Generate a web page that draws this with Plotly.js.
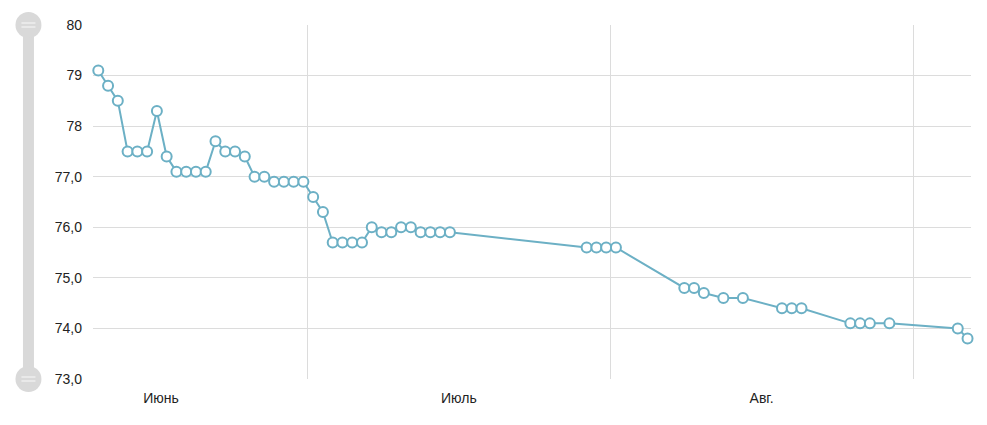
<!DOCTYPE html>
<html>
<head>
<meta charset="utf-8">
<script src="https://cdn.plot.ly/plotly-3.0.1.min.js"></script>
<style>
  html, body { margin: 0; padding: 0; background: #fff; }
  #chart { width: 987px; height: 425px; }
</style>
</head>
<body>
<div id="chart"></div>
<script>
// ---- data ----
const dates = [
  "2015-06-09","2015-06-10","2015-06-11","2015-06-12","2015-06-13","2015-06-14","2015-06-15",
  "2015-06-16","2015-06-17","2015-06-18","2015-06-19","2015-06-20","2015-06-21","2015-06-22",
  "2015-06-23","2015-06-24","2015-06-25","2015-06-26","2015-06-27","2015-06-28","2015-06-29",
  "2015-06-30","2015-07-01","2015-07-02","2015-07-03","2015-07-04","2015-07-05","2015-07-06",
  "2015-07-07","2015-07-08","2015-07-09","2015-07-10","2015-07-11","2015-07-12","2015-07-13",
  "2015-07-14","2015-07-15",
  "2015-07-29","2015-07-30","2015-07-31","2015-08-01",
  "2015-08-08","2015-08-09","2015-08-10","2015-08-12","2015-08-14",
  "2015-08-18","2015-08-19","2015-08-20",
  "2015-08-25","2015-08-26","2015-08-27","2015-08-29",
  "2015-09-05","2015-09-06"
];
const weights = [
  79.1,78.8,78.5,77.5,77.5,77.5,78.3,
  77.4,77.1,77.1,77.1,77.1,77.7,77.5,
  77.5,77.4,77.0,77.0,76.9,76.9,76.9,
  76.9,76.6,76.3,75.7,75.7,75.7,75.7,
  76.0,75.9,75.9,76.0,76.0,75.9,75.9,
  75.9,75.9,
  75.6,75.6,75.6,75.6,
  74.8,74.8,74.7,74.6,74.6,
  74.4,74.4,74.4,
  74.1,74.1,74.1,74.1,
  74.0,73.8
];
const monthStarts = ["2015-06-01","2015-07-01","2015-08-01","2015-09-01"];
const monthMids   = ["2015-06-16","2015-07-16 12:00","2015-08-16 12:00"];
const monthLabels = ["Июнь","Июль","Авг."];
const yTickVals   = [73,74,75,76,77,78,79,80];
const yTickText   = ["73,0","74,0","75,0","76,0","77,0","78","79","80"];

// ---- chart ----
const lineColor = "#6cb0c5";
const gridColor = "#dcdcdc";
const sliderColor = "#d9d9d9";
const sliderX = -0.0735; // paper coords, left of plot

const trace = {
  type: "scatter",
  mode: "lines+markers",
  x: dates.map(d => d + " 14:00"),
  y: weights,
  line: { color: lineColor, width: 2 },
  marker: { size: 10, color: "#ffffff", line: { color: lineColor, width: 2 } },
  hoverinfo: "x+y",
  cliponaxis: false
};

function knob(yAnchor) {
  return [
    { type: "circle", xref: "paper", yref: "paper", xsizemode: "pixel", ysizemode: "pixel",
      xanchor: sliderX, yanchor: yAnchor, x0: -13, x1: 13, y0: -13, y1: 13,
      fillcolor: sliderColor, line: { width: 0 }, layer: "above" },
    { type: "line", xref: "paper", yref: "paper", xsizemode: "pixel", ysizemode: "pixel",
      xanchor: sliderX, yanchor: yAnchor, x0: -7, x1: 7, y0: 2, y1: 2,
      line: { color: "#f4f4f4", width: 1.2 }, layer: "above" },
    { type: "line", xref: "paper", yref: "paper", xsizemode: "pixel", ysizemode: "pixel",
      xanchor: sliderX, yanchor: yAnchor, x0: -7, x1: 7, y0: -2, y1: -2,
      line: { color: "#f4f4f4", width: 1.2 }, layer: "above" }
  ];
}

const layout = {
  width: 987,
  height: 425,
  margin: { l: 93, r: 16, t: 25, b: 46 },
  paper_bgcolor: "#ffffff",
  plot_bgcolor: "#ffffff",
  showlegend: false,
  font: { family: "Liberation Sans, Arial, sans-serif", size: 14, color: "#333333" },
  xaxis: {
    type: "date",
    range: ["2015-06-09 01:00", "2015-09-06 22:30"],
    tickmode: "array",
    tickvals: monthMids,
    ticktext: monthLabels,
    showgrid: false,
    zeroline: false,
    showline: false,
    ticks: "",
    ticklabelstandoff: 9,
    tickfont: { size: 14, color: "#222222" },
    minor: {
      tickmode: "array",
      tickvals: monthStarts,
      showgrid: true,
      gridcolor: gridColor,
      gridwidth: 1,
      ticks: ""
    },
    fixedrange: true
  },
  yaxis: {
    range: [73, 80],
    tickmode: "array",
    tickvals: yTickVals,
    ticktext: yTickText,
    showgrid: true,
    gridcolor: gridColor,
    gridwidth: 1,
    zeroline: false,
    showline: false,
    ticks: "",
    ticklabelstandoff: 10,
    tickfont: { size: 14, color: "#222222" },
    fixedrange: true
  },
  shapes: [
    { type: "rect", xref: "paper", yref: "paper", xsizemode: "pixel", xanchor: sliderX,
      x0: -5.5, x1: 5.5, y0: 0, y1: 1, fillcolor: sliderColor, line: { width: 0 }, layer: "below" }
  ].concat(knob(1), knob(0))
};

Plotly.newPlot("chart", [trace], layout, { displayModeBar: false, staticPlot: true });
</script>
</body>
</html>
